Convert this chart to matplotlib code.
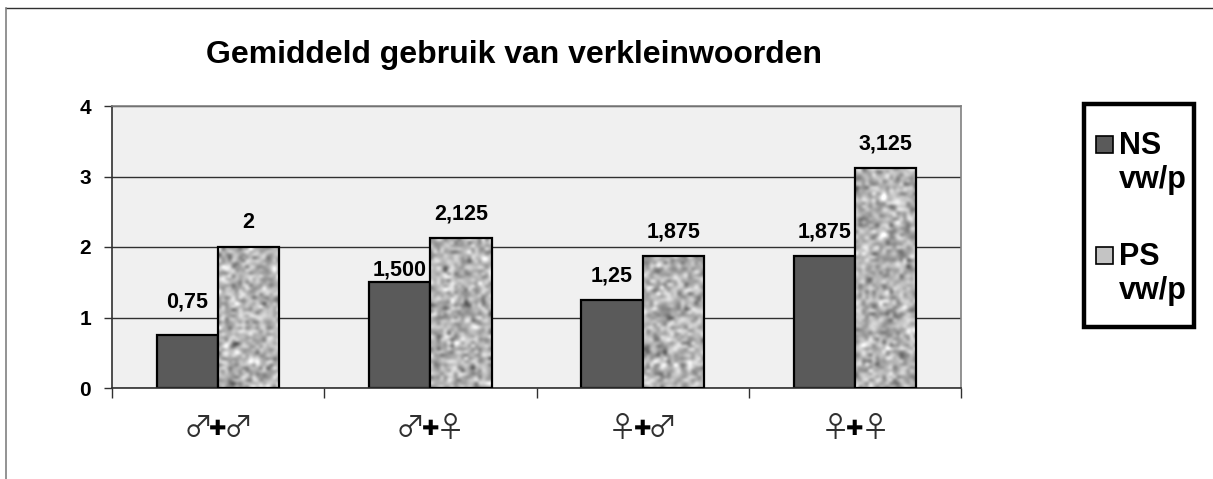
#!/usr/bin/env python3
"""Grouped bar chart: gemiddeld gebruik van verkleinwoorden."""

import matplotlib

matplotlib.use("Agg")
import matplotlib.pyplot as plt
import numpy as np
from matplotlib.lines import Line2D
from matplotlib.patches import Rectangle

plt.rcParams["font.family"] = ["Liberation Sans", "DejaVu Sans"]

TITLE = "Gemiddeld gebruik van verkleinwoorden"
categories = ["♂✚♂", "♂✚♀", "♀✚♂", "♀✚♀"]
ns_values = [0.75, 1.5, 1.25, 1.875]
ps_values = [2, 2.125, 1.875, 3.125]
ns_labels = ["0,75", "1,500", "1,25", "1,875"]
ps_labels = ["2", "2,125", "1,875", "3,125"]
series_names = ["NS\nvw/p", "PS\nvw/p"]
y_ticks = [0, 1, 2, 3, 4]

WIDTH, HEIGHT = 1213, 479
BAR_WIDTH = 0.288
PX = 0.72  # points per pixel at dpi 100
NS_COLOR = "#5a5a5a"
PS_COLOR = "#c4c4c4"


def fx(px):
    return px / WIDTH


def fy(px):
    return 1 - px / HEIGHT


def texture_bar(ax, bar, seed):
    # mottled fill for the PS bars, clipped to the bar itself
    rng = np.random.default_rng(seed)
    x0 = bar.get_x()
    noise = rng.normal(0.70, 0.17, (int(bar.get_height() * 22) + 2, 18))
    img = ax.imshow(
        noise,
        cmap="gray",
        vmin=0,
        vmax=1,
        aspect="auto",
        interpolation="bicubic",
        extent=(x0, x0 + bar.get_width(), 0, bar.get_height()),
        zorder=3.2,
    )
    img.set_clip_path(bar)


fig = plt.figure(figsize=(WIDTH / 100, HEIGHT / 100), dpi=100, facecolor="white")
ax = fig.add_axes([fx(112), fy(388), 849 / WIDTH, 282 / HEIGHT])
ax.set_facecolor("#f0f0f0")

x = np.arange(len(categories))
ns_bars = ax.bar(x - BAR_WIDTH / 2, ns_values, BAR_WIDTH, color=NS_COLOR,
                 edgecolor="black", linewidth=1.6, zorder=2)
ps_bars = ax.bar(x + BAR_WIDTH / 2, ps_values, BAR_WIDTH, color=PS_COLOR, zorder=3)
for i, bar in enumerate(ps_bars):
    texture_bar(ax, bar, i + 3)
# outline goes on top of the texture
ax.bar(x + BAR_WIDTH / 2, ps_values, BAR_WIDTH, fill=False,
       edgecolor="black", linewidth=1.6, zorder=3.5)

ax.set_xlim(-0.5, 3.5)
ax.set_ylim(0, 4)

# value labels, a few sit higher or lower in the original
for bars, labels in ((ns_bars, ns_labels), (ps_bars, ps_labels)):
    for bar, label in zip(bars, labels):
        offset = 24
        if label == "0,75":
            offset = 33
        elif label == "1,500":
            offset = 12
        ax.annotate(label, (bar.get_x() + bar.get_width() / 2, bar.get_height()),
                    xytext=(0, offset * PX), textcoords="offset points",
                    ha="center", va="center", fontsize=15.5, fontweight="bold",
                    color="black", zorder=5)

ax.set_yticks(y_ticks)
ax.set_yticklabels([str(t) for t in y_ticks], fontsize=15, fontweight="bold")
ax.tick_params(axis="y", length=6, width=1.0, color="#303030", pad=9)
ax.grid(axis="y", color="#303030", linewidth=1.0, zorder=1)
ax.set_axisbelow(True)

# ticks between the groups
ax.set_xticks(np.arange(len(categories) + 1) - 0.5)
ax.set_xticklabels([])
ax.tick_params(axis="x", which="major", length=7, width=1.0, color="#303030")

# category labels: symbol, heavy plus, symbol
for pos, cat in zip(x, categories):
    for dx, ch in zip((-20, 0, 20), cat):
        plus = ch == "✚"
        ax.annotate(ch, (pos, 0), xycoords=ax.get_xaxis_transform(),
                    xytext=(dx * PX, -41 * PX), textcoords="offset points",
                    ha="center", va="center", annotation_clip=False,
                    fontsize=15 if plus else 21,
                    family="DejaVu Sans" if plus else "Noto Sans CJK JP",
                    color="black" if plus else "#303030")

for side, spine in ax.spines.items():
    spine.set_linewidth(1.2)
    spine.set_color("#808080" if side in ("top", "right") else "#303030")

fig.text(fx(514), fy(55), TITLE, ha="center", va="center",
         fontsize=23, fontweight="bold")

# legend box, built by hand because the swatches line up with the first text line
fig.add_artist(Rectangle((fx(1084), fy(327)), 110 / WIDTH, 223 / HEIGHT, facecolor="white",
                         edgecolor="black", linewidth=3.2, transform=fig.transFigure))
for name, color, top in zip(series_names, (NS_COLOR, PS_COLOR), (136, 247)):
    fig.add_artist(Rectangle((fx(1096), fy(top + 17)), 17 / WIDTH, 17 / HEIGHT, facecolor=color,
                             edgecolor="black", linewidth=1.2, transform=fig.transFigure))
    fig.text(fx(1119), fy(top + 27), name, ha="left", va="center",
             fontsize=22, fontweight="bold", linespacing=1.15)

# outer chart border: only the top and left survive the crop
fig.add_artist(Line2D([fx(6), 1], [fy(8)] * 2, color="#303030", linewidth=1.0))
fig.add_artist(Line2D([fx(6)] * 2, [0, fy(8)], color="#808080", linewidth=1.2))

fig.savefig("out.png", dpi=100, facecolor=fig.get_facecolor())
plt.close(fig)
